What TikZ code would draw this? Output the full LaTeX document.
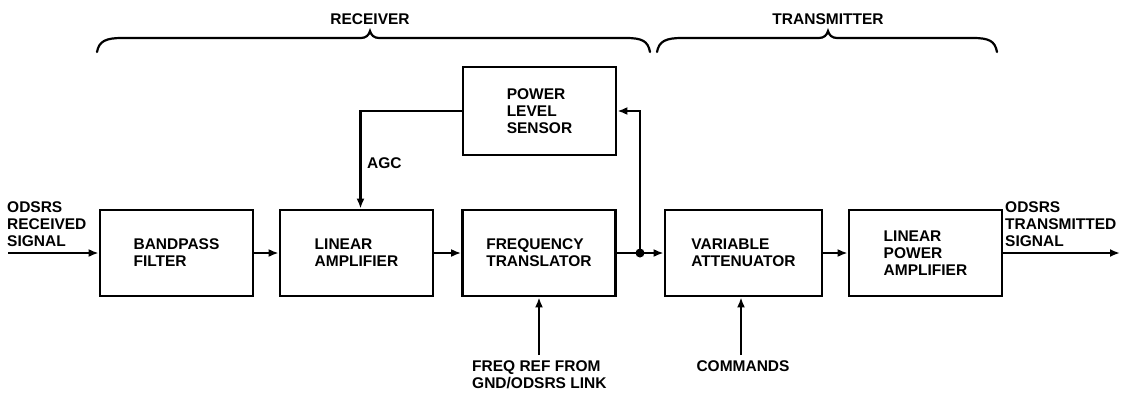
\documentclass[tikz,border=0pt]{standalone}
\usepackage{fontspec}
\setmainfont{Liberation Sans}
\usetikzlibrary{arrows.meta,positioning,calc}

\begin{document}
\begin{tikzpicture}[x=1pt,y=-1pt,
    block/.style={draw,line width=2.8pt,minimum width=153pt,minimum height=86pt,inner sep=0pt,align=left,font=\fontsize{15.5}{17}\selectfont\bfseries},
    lbl/.style={inner sep=0pt,align=left,font=\fontsize{15.5}{17}\selectfont\bfseries},
    arrow/.style={-{Latex[length=10pt,width=8pt]},line width=2.8pt},
    wire/.style={line width=2.8pt},
    brace/.style={line width=2.2pt,line cap=round}]
  \useasboundingbox (0,0) rectangle (1128,394);
  % main chain
  \node[block] (bpf) at (176.5,253) {BANDPASS\\FILTER};
  \node[block] (lamp) at (356.5,253) {LINEAR\\AMPLIFIER};
  \node[block] (ftr) at (539,253) {FREQUENCY\\TRANSLATOR};
  \node[block,minimum height=88pt] (pls) at (539.5,111) {POWER\\LEVEL\\SENSOR};
  \node[block,minimum width=157pt] (vatt) at (743.5,253) {VARIABLE\\ATTENUATOR};
  \node[block] (lpa) at (925.5,253) {LINEAR\\POWER\\AMPLIFIER};
  \coordinate (in) at (8,253);
  \coordinate (out) at (1120,253);
  \coordinate (junc) at (640,253);
  \coordinate (fref) at (539,355);
  \coordinate (cmd) at (741,355);
  \coordinate (agcin) at ([xshift=4pt]lamp.north);
  % labels
  \node[lbl,anchor=south west] (inlbl) at (7,247) {ODSRS\\RECEIVED\\SIGNAL};
  \node[lbl,anchor=south west] (outlbl) at (1005,247) {ODSRS\\TRANSMITTED\\SIGNAL};
  \node[lbl,anchor=west] (agc) at (367,163) {AGC};
  \node[lbl,anchor=north west] (freflbl) at (472,360) {FREQ REF FROM\\GND/ODSRS LINK};
  \node[lbl,anchor=north] (cmdlbl) at (743,360) {COMMANDS};
  \node[lbl] (rxlbl) at (370,19) {RECEIVER};
  \node[lbl] (txlbl) at (828,19) {TRANSMITTER};
  % connectors
  \draw[arrow] (in) -- (bpf.west);
  \draw[arrow] (bpf) -- (lamp);
  \draw[arrow] (lamp) -- (ftr);
  \draw[wire] (ftr.east) -- (junc);
  \draw[arrow] (junc) -- (vatt.west);
  \draw[arrow] (vatt) -- (lpa);
  \draw[arrow] (lpa.east) -- (out);
  \draw[arrow] (junc) |- (pls.east);
  \draw[arrow] (pls.west) -| (agcin);
  \draw[arrow] (fref) -- (ftr.south);
  \draw[arrow] (cmd) -- (cmd |- vatt.south);
  \fill (junc) circle (4.5pt);
  % braces
  \draw[brace] (97,52) .. controls (99,41) and (106,38) .. (122,38) -- (361,38)
    .. controls (366,38) and (369,35) .. (370,31) .. controls (371,35) and (374,38) .. (379,38)
    -- (626,38) .. controls (642,38) and (648,41) .. (650,52);
  \draw[brace] (657,52) .. controls (659,41) and (666,38) .. (682,38) -- (819,38)
    .. controls (824,38) and (827,35) .. (828,31) .. controls (829,35) and (832,38) .. (837,38)
    -- (973,38) .. controls (989,38) and (995,41) .. (997,52);
\end{tikzpicture}
\end{document}
